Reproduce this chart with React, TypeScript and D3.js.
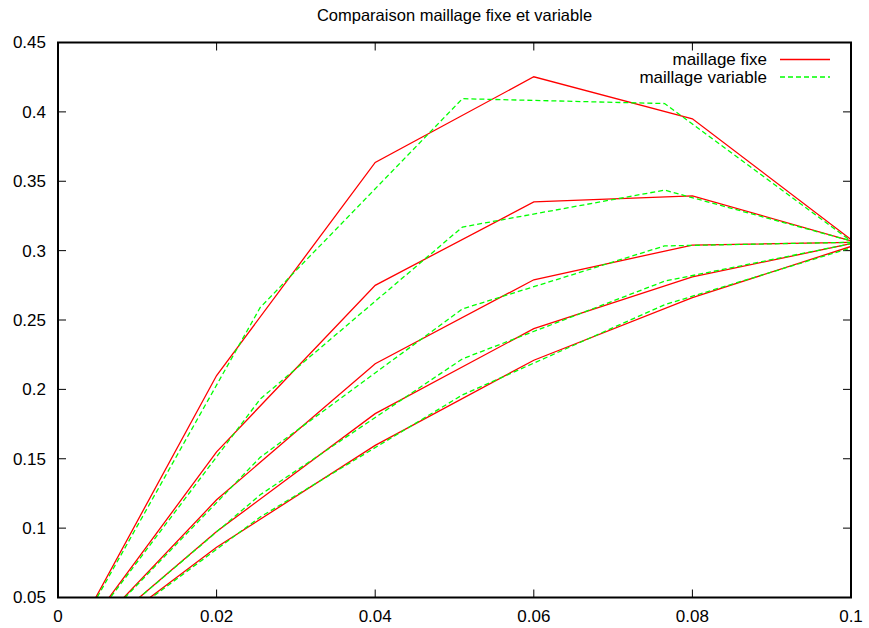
import React from 'react';
import * as d3 from 'd3';

// abscisses
const xFixe = [0, 0.02, 0.04, 0.06, 0.08, 0.1];
const xVariable = [0, 0.0255, 0.051, 0.0765, 0.1];

// maillage fixe (rouge)
const fixe1 = [0, 0.21, 0.3636, 0.4253, 0.395, 0.308];
const fixe2 = [0, 0.155, 0.275, 0.3351, 0.3395, 0.307];
const fixe3 = [0, 0.1204, 0.2185, 0.279, 0.304, 0.306];
const fixe4 = [0, 0.0975, 0.1825, 0.2438, 0.281, 0.305];
const fixe5 = [0, 0.0862, 0.1596, 0.221, 0.2662, 0.303];

// maillage variable (vert)
const var1 = [0, 0.259, 0.4095, 0.406, 0.307];
const var2 = [0, 0.193, 0.317, 0.3436, 0.307];
const var3 = [0, 0.151, 0.258, 0.3034, 0.306];
const var4 = [0, 0.124, 0.222, 0.278, 0.305];
const var5 = [0, 0.108, 0.196, 0.261, 0.302];

const xTicks = [0, 0.02, 0.04, 0.06, 0.08, 0.1];
const yTicks = [0.05, 0.1, 0.15, 0.2, 0.25, 0.3, 0.35, 0.4, 0.45];

const title = 'Comparaison maillage fixe et variable';
const labelFixe = 'maillage fixe';
const labelVariable = 'maillage variable';

const W = 869;
const H = 628;
const m = { left: 58, right: 18, top: 42.5, bottom: 30.5 };
const font = '"Liberation Sans", Arial, Helvetica, sans-serif';

const App = () => {
  const x = d3.scaleLinear().domain([0, 0.1]).range([m.left, W - m.right]);
  const y = d3.scaleLinear().domain([0.05, 0.45]).range([H - m.bottom, m.top]);

  const line = (xs: number[]) =>
    d3
      .line<number>()
      .x((_, i) => x(xs[i]))
      .y((d) => y(d));

  const fixed = [fixe1, fixe2, fixe3, fixe4, fixe5];
  const variable = [var1, var2, var3, var4, var5];

  const x0 = x(0), x1 = x(0.1), y0 = y(0.05), y1 = y(0.45);
  const tick = 8;

  return (
    <svg width={W} height={H} style={{ position: 'absolute', left: 0, top: 0, background: '#fff' }}>
      <defs>
        <clipPath id="plot">
          <rect x={x0} y={y1} width={x1 - x0} height={y0 - y1} />
        </clipPath>
      </defs>

      <text x={(x0 + x1) / 2} y={21} textAnchor="middle" fontFamily={font} fontSize={16.5}>
        {title}
      </text>

      {/* ticks */}
      <g stroke="#000" strokeWidth={1}>
        {yTicks.map((t) => (
          <g key={'y' + t}>
            <line x1={x0} x2={x0 + tick} y1={y(t)} y2={y(t)} />
            <line x1={x1} x2={x1 - tick} y1={y(t)} y2={y(t)} />
          </g>
        ))}
        {xTicks.map((t) => (
          <g key={'x' + t}>
            <line x1={x(t)} x2={x(t)} y1={y0} y2={y0 - tick} />
            <line x1={x(t)} x2={x(t)} y1={y1} y2={y1 + tick} />
          </g>
        ))}
      </g>

      <g fontFamily={font} fontSize={17} fill="#000">
        {yTicks.map((t) => (
          <text key={'yl' + t} x={x0 - 12} y={y(t)} dy="0.35em" textAnchor="end">
            {d3.format('')(+t.toFixed(2))}
          </text>
        ))}
        {xTicks.map((t) => (
          <text key={'xl' + t} x={x(t)} y={H - 6} textAnchor="middle">
            {d3.format('')(+t.toFixed(2))}
          </text>
        ))}
      </g>

      <g clipPath="url(#plot)" fill="none" strokeWidth={1.3}>
        {fixed.map((s, i) => (
          <path key={'f' + i} d={line(xFixe)(s) || ''} stroke="#ff0000" />
        ))}
        {variable.map((s, i) => (
          <path key={'v' + i} d={line(xVariable)(s) || ''} stroke="#00ff00" strokeDasharray="5,3" />
        ))}
      </g>

      {/* legend */}
      <g fontFamily={font} fontSize={17}>
        <text x={767} y={64.5} textAnchor="end">{labelFixe}</text>
        <line x1={780} x2={830} y1={59.5} y2={59.5} stroke="#ff0000" strokeWidth={1.3} />
        <text x={767} y={82.5} textAnchor="end">{labelVariable}</text>
        <line x1={780} x2={830} y1={77} y2={77} stroke="#00ff00" strokeWidth={1.3} strokeDasharray="5,3" />
      </g>

      <rect x={x0} y={y1} width={x1 - x0} height={y0 - y1} fill="none" stroke="#000" strokeWidth={2} />
    </svg>
  );
};

export default App;
